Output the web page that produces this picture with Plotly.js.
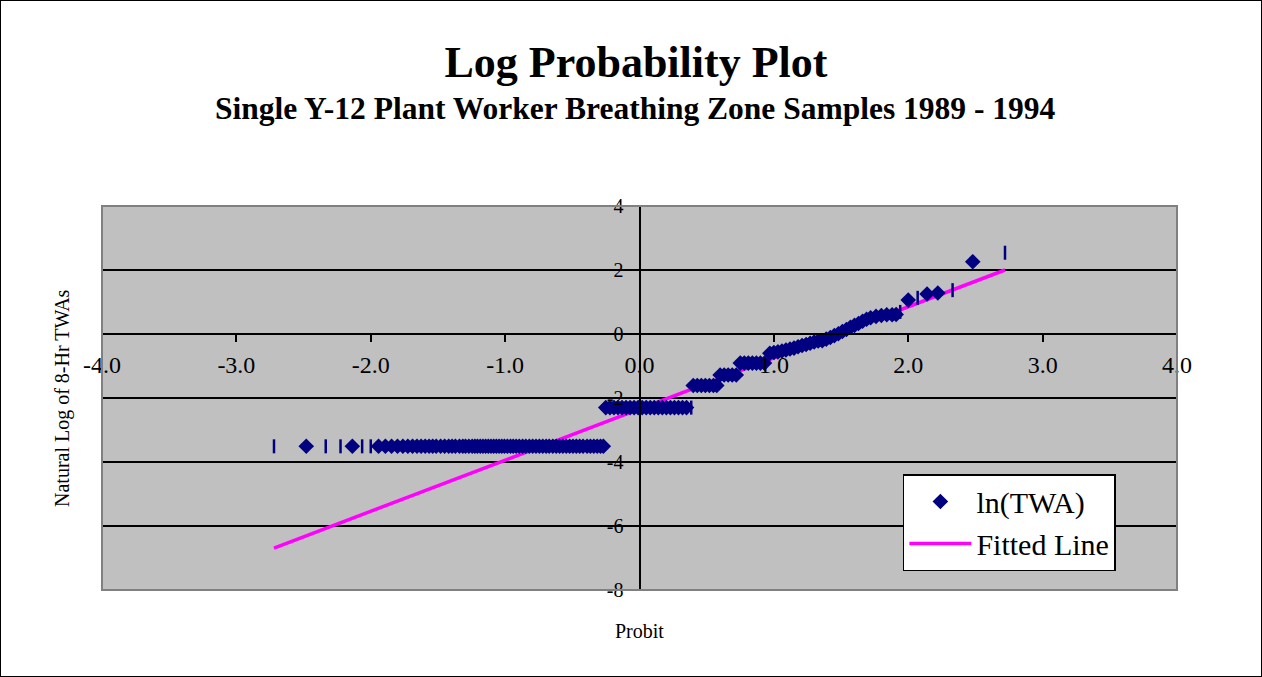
<!DOCTYPE html>
<html>
<head>
<meta charset="utf-8">
<script src="https://cdn.plot.ly/plotly-3.0.1.min.js"></script>
<style>
  html, body { margin: 0; padding: 0; background: #ffffff; }
  #wrap { position: relative; width: 1262px; height: 677px; }
  #chart { width: 1262px; height: 677px; }
  #frame { position: absolute; left: 0; top: 0; width: 1262px; height: 677px; box-sizing: border-box; border: 1px solid #000; pointer-events: none; }
</style>
</head>
<body>
<div id="wrap"><div id="chart"></div><div id="frame"></div></div>
<script>
// ---- Data ----
const probit = [
  -2.72, -2.48, -2.335, -2.225, -2.137, -2.064, -2.000, -1.942, -1.891, -1.845,
  -1.801, -1.761, -1.724, -1.689, -1.656, -1.625, -1.595, -1.566, -1.539, -1.513,
  -1.48, -1.45, -1.42, -1.395, -1.37, -1.34, -1.315, -1.295, -1.27, -1.245,
  -1.225, -1.206, -1.185, -1.165, -1.145, -1.125, -1.105, -1.085, -1.065, -1.045,
  -1.025, -1.005, -0.983, -0.96, -0.94, -0.918, -0.895, -0.87, -0.846, -0.82,
  -0.795, -0.77, -0.745, -0.72, -0.695, -0.672, -0.645, -0.62, -0.595, -0.57,
  -0.545, -0.52, -0.495, -0.47, -0.445, -0.42, -0.39, -0.365, -0.34, -0.315,
  -0.29, -0.269,
  -0.251, -0.22, -0.19, -0.16, -0.13, -0.10, -0.07, -0.04, -0.01, 0.02,
  0.05, 0.08, 0.11, 0.14, 0.17, 0.20, 0.23, 0.26, 0.29, 0.32, 0.35, 0.385,
  0.40, 0.43, 0.46, 0.49, 0.52, 0.55, 0.575,
  0.60, 0.63, 0.66, 0.69, 0.72,
  0.75, 0.78, 0.81, 0.84, 0.87, 0.90, 0.93,
  0.97, 1.00, 1.03, 1.06, 1.09, 1.12, 1.15, 1.18, 1.21, 1.24,
  1.27, 1.30, 1.33, 1.36, 1.39, 1.42, 1.45, 1.48, 1.51, 1.54,
  1.57, 1.60, 1.63, 1.66, 1.69, 1.72, 1.76, 1.80, 1.84, 1.88,
  1.91, 1.94,
  2.00, 2.07, 2.14, 2.22, 2.33, 2.48, 2.72
];
const lnTWA = [
  -3.51, -3.51, -3.51, -3.51, -3.51, -3.51, -3.51, -3.51, -3.51, -3.51,
  -3.51, -3.51, -3.51, -3.51, -3.51, -3.51, -3.51, -3.51, -3.51, -3.51,
  -3.51, -3.51, -3.51, -3.51, -3.51, -3.51, -3.51, -3.51, -3.51, -3.51,
  -3.51, -3.51, -3.51, -3.51, -3.51, -3.51, -3.51, -3.51, -3.51, -3.51,
  -3.51, -3.51, -3.51, -3.51, -3.51, -3.51, -3.51, -3.51, -3.51, -3.51,
  -3.51, -3.51, -3.51, -3.51, -3.51, -3.51, -3.51, -3.51, -3.51, -3.51,
  -3.51, -3.51, -3.51, -3.51, -3.51, -3.51, -3.51, -3.51, -3.51, -3.51,
  -3.51, -3.51,
  -2.30, -2.30, -2.30, -2.30, -2.30, -2.30, -2.30, -2.30, -2.30, -2.30,
  -2.30, -2.30, -2.30, -2.30, -2.30, -2.30, -2.30, -2.30, -2.30, -2.30, -2.30, -2.30,
  -1.61, -1.61, -1.61, -1.61, -1.61, -1.61, -1.61,
  -1.28, -1.28, -1.28, -1.28, -1.28,
  -0.91, -0.91, -0.91, -0.91, -0.91, -0.91, -0.91,
  -0.60, -0.58, -0.56, -0.53, -0.50, -0.47, -0.44, -0.40, -0.36, -0.33,
  -0.29, -0.25, -0.22, -0.21, -0.16, -0.11, -0.05, 0.01, 0.08, 0.14,
  0.21, 0.27, 0.33, 0.40, 0.46, 0.51, 0.55, 0.58, 0.60, 0.60,
  0.61, 0.69,
  1.06, 1.13, 1.25, 1.28, 1.37, 2.26, 2.54
];
// points that the reference draws as a thin vertical stroke instead of a diamond
const strokeProbits = [-2.72, -2.335, -2.225, -2.064, -2.000, 0.385, 1.94, 2.07, 2.33, 2.72];

const fitProbit = [-2.72, -1.5, 0, 1.5, 2.72];
const fitLn = [-6.69, -4.74, -2.34, 0.06, 2.00];

const xTickVals = [-4, -3, -2, -1, 0, 1, 2, 3, 4];
const xTickText = ['-4.0', '-3.0', '-2.0', '-1.0', '0.0', '1.0', '2.0', '3.0', '4.0'];
const yTickVals = [-8, -6, -4, -2, 0, 2, 4];
const yTickText = ['-8', '-6', '-4', '-2', '0', '2', '4'];

// ---- Build traces ----
const dX = [], dY = [], sX = [], sY = [];
probit.forEach((x, i) => {
  if (strokeProbits.includes(x)) { sX.push(x); sY.push(lnTWA[i]); }
  else { dX.push(x); dY.push(lnTWA[i]); }
});

const NAVY = '#000080';
const SERIF = '"Liberation Serif", "Times New Roman", Times, serif';

const traces = [
  {
    x: fitProbit, y: fitLn, type: 'scatter', mode: 'lines', name: 'Fitted Line',
    line: { color: '#FF00FF', width: 3.5 }, legendrank: 2, hoverinfo: 'skip'
  },
  {
    x: dX, y: dY, type: 'scatter', mode: 'markers', name: 'ln(TWA)',
    marker: { symbol: 'diamond', size: 12, color: NAVY, line: { width: 0 } },
    legendgroup: 'twa', legendrank: 1
  },
  {
    x: sX, y: sY, type: 'scatter', mode: 'markers', name: 'ln(TWA)',
    marker: { symbol: 'line-ns', size: 10, color: NAVY, line: { width: 2.5, color: NAVY } },
    legendgroup: 'twa', showlegend: false
  }
];

const layout = {
  width: 1262, height: 677,
  margin: { l: 102, r: 85, t: 206, b: 87, pad: 0 },
  paper_bgcolor: '#ffffff',
  plot_bgcolor: '#C0C0C0',
  font: { family: SERIF, color: '#000000' },
  showlegend: true,
  title: {
    text: '<b>Log Probability Plot</b>',
    font: { family: SERIF, size: 44, color: '#000' },
    x: 0.4967, xanchor: 'center', xref: 'paper',
    y: 1 - 62 / 677, yanchor: 'middle', yref: 'container'
  },
  xaxis: {
    range: [-4, 4], anchor: 'free', position: 8 / 12,
    tickmode: 'array', tickvals: xTickVals, ticktext: xTickText,
    ticks: 'outside', ticklen: 7, tickwidth: 2, tickcolor: '#000',
    showline: true, linecolor: '#000', linewidth: 2,
    showgrid: false, zeroline: false,
    tickfont: { family: SERIF, size: 24, color: '#000' },
    ticklabelstandoff: 2
  },
  yaxis: {
    range: [-8, 4], anchor: 'free', position: 0.5,
    tickmode: 'array', tickvals: yTickVals, ticktext: yTickText,
    ticks: 'outside', ticklen: 6, tickwidth: 2, tickcolor: '#000',
    showline: true, linecolor: '#000', linewidth: 2,
    showgrid: true, gridcolor: '#000', gridwidth: 2, zeroline: false,
    tickfont: { family: SERIF, size: 20, color: '#000' },
    ticklabelstandoff: 5
  },
  legend: {
    x: 0.745, y: 0.302, xanchor: 'left', yanchor: 'top',
    bgcolor: '#ffffff', bordercolor: '#000', borderwidth: 1.5,
    font: { family: SERIF, size: 30, color: '#000' },
    itemwidth: 62, tracegroupgap: 0
  },
  shapes: [
    { type: 'rect', xref: 'paper', yref: 'paper', x0: 0, x1: 1, y0: 0, y1: 1,
      line: { color: '#808080', width: 2 }, layer: 'above' }
  ],
  annotations: [
    { text: '<b>Single Y-12 Plant Worker Breathing Zone Samples 1989 - 1994</b>',
      xref: 'paper', yref: 'paper', x: 0.4967, y: (590 - 108) / 384,
      xanchor: 'center', yanchor: 'middle', showarrow: false,
      font: { family: SERIF, size: 31.5, color: '#000' } },
    { text: 'Natural Log of 8-Hr TWAs',
      xref: 'paper', yref: 'paper', x: (62 - 102) / 1075, y: 0.5,
      xanchor: 'center', yanchor: 'middle', textangle: -90, showarrow: false,
      font: { family: SERIF, size: 20, color: '#000' } },
    { text: 'Probit',
      xref: 'paper', yref: 'paper', x: 0.5, y: (590 - 631) / 384,
      xanchor: 'center', yanchor: 'middle', showarrow: false,
      font: { family: SERIF, size: 20, color: '#000' } }
  ]
};

Plotly.newPlot('chart', traces, layout, { displayModeBar: false, responsive: false });
</script>
</body>
</html>
